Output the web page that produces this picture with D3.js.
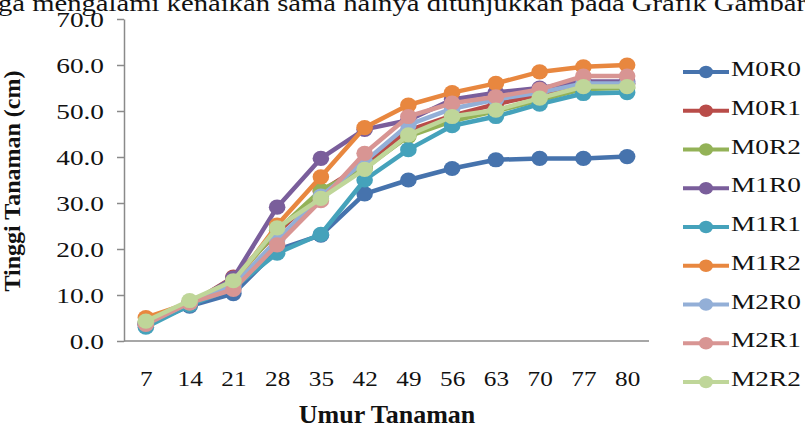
<!DOCTYPE html>
<html>
<head>
<meta charset="utf-8">
<script src="https://cdn.jsdelivr.net/npm/d3@7"></script>
<style>
  html, body { margin: 0; padding: 0; background: #fff; }
  svg { display: block; font-family: "Liberation Serif", "Times New Roman", serif; }
</style>
</head>
<body>
<svg id="chart" width="805" height="430"></svg>
<script>
// Plant height (cm) by plant age (days) for each treatment
const days = ["7", "14", "21", "28", "35", "42", "49", "56", "63", "70", "77", "80"];
const seriesNames = ["M0R0", "M0R1", "M0R2", "M1R0", "M1R1", "M1R2", "M2R0", "M2R1", "M2R2"];
const M0R0 = [3.6, 7.6, 10.3, 19.8, 23.0, 32.0, 35.0, 37.5, 39.4, 39.7, 39.7, 40.1];
const M0R1 = [3.8, 8.0, 13.9, 23.5, 32.5, 38.5, 45.8, 49.0, 51.5, 53.5, 56.0, 56.0];
const M0R2 = [4.0, 8.2, 13.0, 24.0, 32.8, 37.5, 44.5, 47.8, 50.0, 52.3, 54.8, 55.0];
const M1R0 = [3.5, 8.0, 13.7, 29.1, 39.7, 46.0, 48.0, 52.5, 54.0, 55.0, 56.4, 56.4];
const M1R1 = [3.0, 7.8, 11.5, 19.1, 23.2, 35.0, 41.6, 46.8, 48.8, 51.5, 53.8, 54.0];
const M1R2 = [5.1, 8.3, 12.5, 25.2, 35.7, 46.4, 51.3, 54.0, 56.0, 58.5, 59.6, 60.0];
const M2R0 = [3.8, 8.3, 12.0, 22.0, 31.5, 39.0, 47.0, 50.5, 52.5, 54.0, 56.0, 56.0];
const M2R1 = [3.6, 8.3, 11.2, 20.9, 30.5, 40.8, 48.8, 51.7, 53.1, 54.7, 57.6, 57.6];
const M2R2 = [4.3, 8.8, 13.1, 24.6, 31.0, 37.3, 44.8, 48.8, 50.2, 52.8, 55.3, 55.3];
const yTicks = [0, 10, 20, 30, 40, 50, 60, 70];
const colors = ["#4673ad", "#b94c49", "#93b257", "#7a5e9b", "#45a2bb", "#e8873f", "#93afd7", "#d89593", "#bfd699"];

const seriesValues = [M0R0, M0R1, M0R2, M1R0, M1R1, M1R2, M2R0, M2R1, M2R2];
const series = seriesNames.map((name, i) => ({
  name,
  color: colors[i],
  values: seriesValues[i].map((v, j) => ({ day: days[j], v }))
}));

const svg = d3.select("#chart");
const plot = { left: 124, right: 649, top: 19, bottom: 341 };
const SX = 1.3; // horizontal widening of the regular serif labels

function widen(sel, k) {
  sel.each(function () {
    const w = this.getComputedTextLength();
    d3.select(this).attr("textLength", w * k).attr("lengthAdjust", "spacingAndGlyphs");
  });
}

// Running text line above the chart (clipped at the top edge)
svg.append("text")
  .attr("x", -2).attr("y", 11)
  .attr("font-size", 24)
  .attr("fill", "#111")
  .attr("textLength", 808).attr("lengthAdjust", "spacingAndGlyphs")
  .text("ga mengalami kenaikan sama halnya ditunjukkan pada Grafik Gambar");

const x = d3.scalePoint().domain(days).range([plot.left, plot.right]).padding(0.5);
const y = d3.scaleLinear().domain([0, 70]).range([plot.bottom, plot.top]);

// Y axis
const yAxis = svg.append("g")
  .attr("transform", `translate(${plot.left},0)`)
  .call(d3.axisLeft(y).tickValues(yTicks).tickFormat(d3.format(".1f")).tickSize(7).tickSizeOuter(0).tickPadding(13));
yAxis.select(".domain").attr("stroke", "#8a8a8a").attr("stroke-width", 1.5);
yAxis.selectAll(".tick line").attr("stroke", "#8a8a8a").attr("stroke-width", 1.5);
yAxis.selectAll(".tick text")
  .attr("font-family", "Liberation Serif, Times New Roman, serif")
  .attr("font-size", 21).attr("fill", "#111").attr("dy", "0.35em")
  .call(widen, SX);

// X axis
const xAxis = svg.append("g")
  .attr("transform", `translate(0,${plot.bottom})`)
  .call(d3.axisBottom(x).tickSize(0).tickSizeOuter(0).tickPadding(30));
xAxis.select(".domain").attr("stroke", "#8a8a8a").attr("stroke-width", 1.5)
  .attr("d", `M${plot.left},0H${plot.right}`);
xAxis.selectAll(".tick text")
  .attr("font-family", "Liberation Serif, Times New Roman, serif")
  .attr("font-size", 21).attr("fill", "#111").attr("dy", "0.71em")
  .call(widen, 1.2);

// Axis titles
svg.append("text")
  .attr("transform", `translate(20,181) rotate(-90)`)
  .attr("text-anchor", "middle")
  .attr("font-size", 24).attr("font-weight", "bold").attr("fill", "#111")
  .text("Tinggi Tanaman (cm)");

svg.append("text")
  .attr("x", 387).attr("y", 423)
  .attr("text-anchor", "middle")
  .attr("font-size", 26).attr("font-weight", "bold").attr("fill", "#111")
  .text("Umur Tanaman");

// Lines with markers, drawn series by series
const line = d3.line().x(d => x(d.day)).y(d => y(d.v));
const sg = svg.append("g").selectAll("g").data(series).join("g");
sg.append("path")
  .attr("d", d => line(d.values))
  .attr("fill", "none")
  .attr("stroke", d => d.color)
  .attr("stroke-width", 4.5)
  .attr("stroke-linejoin", "round");
sg.selectAll("ellipse").data(d => d.values.map(p => ({ ...p, color: d.color }))).join("ellipse")
  .attr("cx", d => x(d.day)).attr("cy", d => y(d.v))
  .attr("rx", 8.3).attr("ry", 7.6)
  .attr("fill", d => d.color);

// Legend
const legend = svg.append("g");
const ly = d3.scalePoint().domain(seriesNames).range([72, 382]);
const li = legend.selectAll("g").data(series).join("g")
  .attr("transform", d => `translate(0,${ly(d.name)})`);
li.append("line").attr("x1", 683).attr("x2", 729).attr("y1", 0).attr("y2", 0)
  .attr("stroke", d => d.color).attr("stroke-width", 4);
li.append("ellipse").attr("cx", 706).attr("cy", 0).attr("rx", 7).attr("ry", 6.2)
  .attr("fill", d => d.color);
li.append("text").attr("x", 731).attr("y", 4)
  .attr("font-size", 21).attr("fill", "#111")
  .text(d => d.name)
  .call(widen, SX);
</script>
</body>
</html>
